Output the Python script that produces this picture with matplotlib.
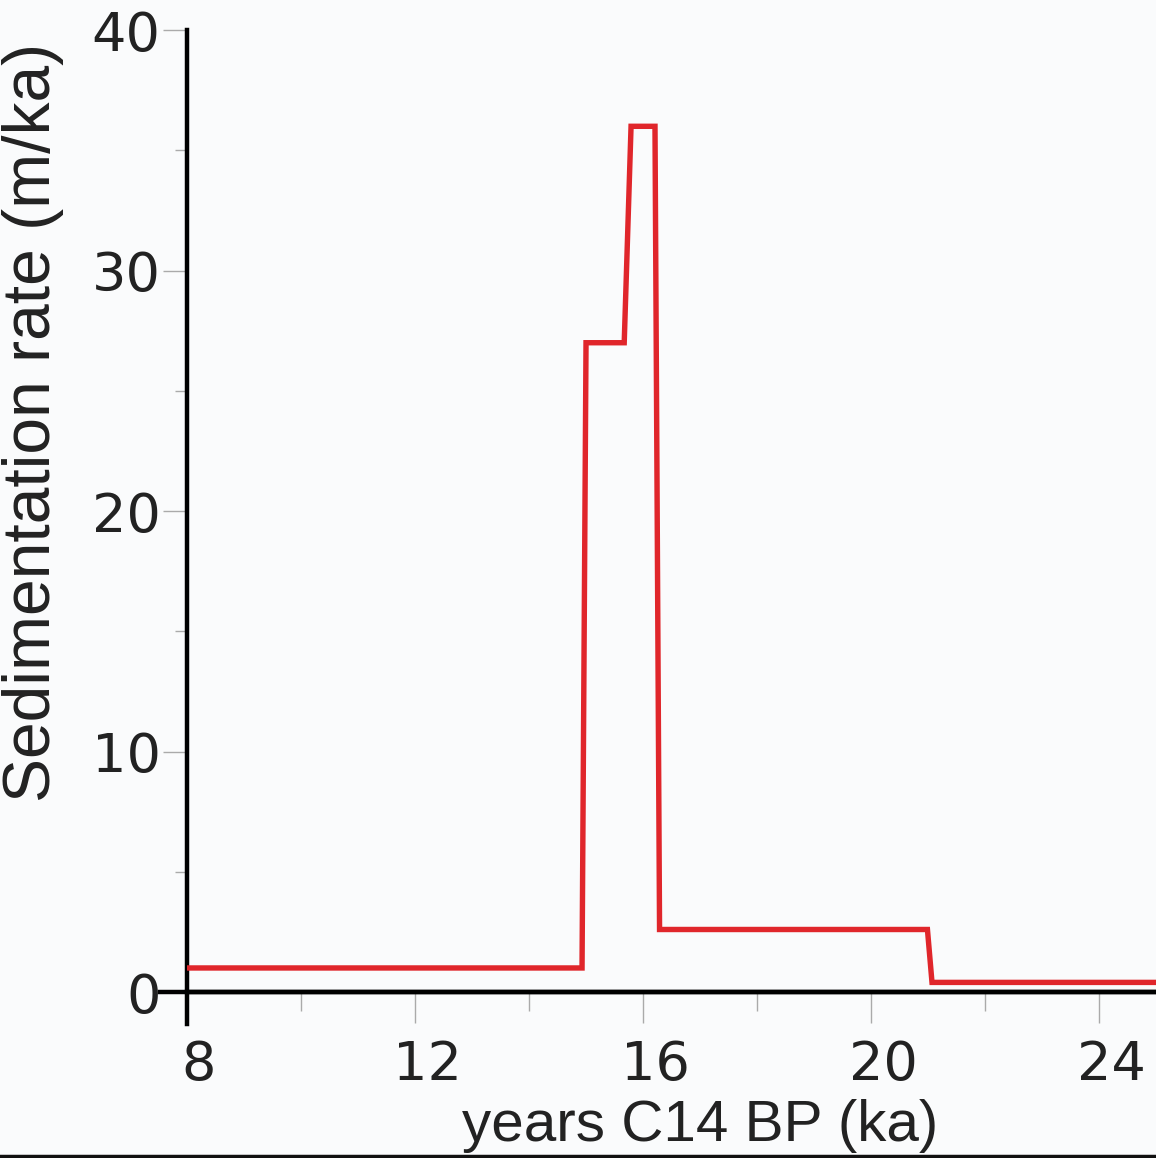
import numpy as np
import matplotlib
matplotlib.use("Agg")
import matplotlib.pyplot as plt
from matplotlib.lines import Line2D
from matplotlib.transforms import ScaledTranslation

# Datos
edad_ka = [8.0, 14.93, 15.0, 15.67, 15.79, 16.21, 16.29, 20.99, 21.07, 25.0]
tasa_sed = [1.0, 1.0, 27.0, 27.0, 36.0, 36.0, 2.6, 2.6, 0.4, 0.4]
xticks_major = [8, 12, 16, 20, 24]
xticks_minor = [10, 14, 18, 22]
yticks_major = [0, 10, 20, 30, 40]
yticks_minor = [5, 15, 25, 35]

fondo = '#fafbfc'
fig = plt.figure(figsize=(11.56, 11.58), dpi=100, facecolor=fondo)
ax = fig.add_axes([0.1618, 0.0, 0.8382, 0.974])
ax.set_facecolor(fondo)

ax.plot(edad_ka, tasa_sed, '-', color='#e0262b', linewidth=3.9,
        solid_joinstyle='miter', zorder=3)

# Limites
ax.set_xlim(8, 25)
ax.set_ylim(-(1158 - 992) / 24.05, 40)

# Ejes
for s in ['top', 'right']:
    ax.spines[s].set_visible(False)
ax.spines['bottom'].set_position(('data', 0))
ax.spines['bottom'].set_linewidth(3.2)
ax.spines['left'].set_linewidth(3.2)
ax.spines['left'].set_bounds(-1.33, 40)
ax.axhline(0, xmin=-0.028, xmax=1, color='k', lw=3.2, clip_on=False, zorder=2)

ax.set_xticks(xticks_major)
ax.set_xticks(xticks_minor, minor=True)
ax.set_yticks(yticks_major)
ax.set_yticks(yticks_minor, minor=True)
ax.tick_params(axis='x', which='major', direction='out', length=22, width=1.0,
               color='#aaaaaa', labelsize=39, pad=12)
ax.tick_params(axis='x', which='minor', direction='out', length=14, width=1.0,
               color='#aaaaaa')
ax.tick_params(axis='y', which='major', direction='out', length=17, width=1.0,
               color='#aaaaaa', labelsize=39, pad=2)
ax.tick_params(axis='y', which='minor', direction='out', length=9, width=1.0,
               color='#aaaaaa')
for lab in ax.get_xticklabels() + ax.get_yticklabels():
    lab.set_family('DejaVu Sans')
    lab.set_color('#222222')
for lab in ax.get_xticklabels():
    lab.set_transform(lab.get_transform() + ScaledTranslation(0.12, 0, fig.dpi_scale_trans))

# Etiquetas
fig.text(0.6055, 0.004, 'years C14 BP (ka)', fontsize=42, family='Liberation Sans',
         ha='center', va='bottom', color='#222222')
fig.text(0.002, 0.635, 'Sedimentation rate (m/ka)', fontsize=47.5, family='Liberation Sans',
         rotation=90, ha='left', va='center', color='#222222')

# Linea inferior del marco
fig.add_artist(Line2D([0, 1], [0.0015, 0.0015], transform=fig.transFigure,
                      color='#111111', lw=2.5))

fig.savefig('out.png', dpi=100, facecolor=fondo)
